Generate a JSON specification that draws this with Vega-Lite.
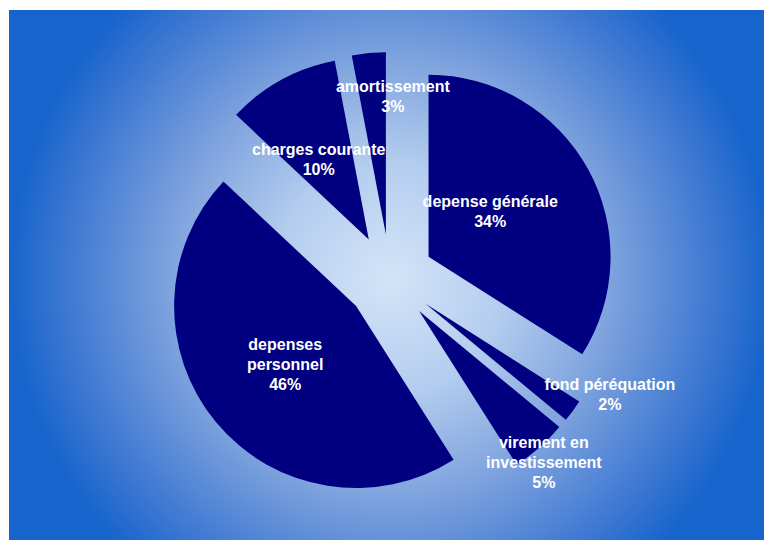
{
  "$schema": "https://vega.github.io/schema/vega-lite/v6.json",
  "width": 764,
  "height": 540,
  "autosize": {"type": "fit", "contains": "padding"},
  "padding": {"left": 9, "top": 10, "right": -7, "bottom": -6},
  "background": "white",
  "view": {
    "stroke": null,
    "fill": {
      "gradient": "radial",
      "x1": 0.5, "y1": 0.5, "r1": 0,
      "x2": 0.5, "y2": 0.5, "r2": 0.5,
      "stops": [
        {"offset": 0, "color": "#d3e4f7"},
        {"offset": 0.3, "color": "#b4cdef"},
        {"offset": 0.57, "color": "#80a4de"},
        {"offset": 0.85, "color": "#3e78d2"},
        {"offset": 1, "color": "#1664cc"}
      ]
    }
  },
  "data": {
    "values": [
      {"poste": "depense générale", "pct": 34},
      {"poste": "fond péréquation", "pct": 2},
      {"poste": "virement en\ninvestissement", "pct": 5},
      {"poste": "depenses\npersonnel", "pct": 46},
      {"poste": "charges courante", "pct": 10},
      {"poste": "amortissement", "pct": 3}
    ]
  },
  "transform": [
    {"window": [{"op": "row_number", "as": "rang"}]},
    {"calculate": "datum.poste + '\\n' + datum.pct + '%'", "as": "etiquette"}
  ],
  "encoding": {
    "theta": {"field": "pct", "type": "quantitative", "stack": true},
    "order": {"field": "rang", "type": "quantitative"}
  },
  "layer": [
    {
      "mark": {"type": "arc", "radius": 182, "fill": "#000080", "stroke": null},
      "encoding": {
        "x": {"value": {"expr": "width / 2 + 44 * sin(scale('theta', (datum.pct_start + datum.pct_end) / 2))"}},
        "y": {"value": {"expr": "height / 2 - 44 * cos(scale('theta', (datum.pct_start + datum.pct_end) / 2))"}}
      }
    },
    {
      "mark": {
        "type": "text",
        "radius": {"expr": "datum.pct >= 40 ? 136 : datum.pct >= 30 ? 120 : datum.pct >= 10 ? 138 : datum.pct >= 5 ? 241 : datum.pct >= 3 ? 181 : 249"},
        "thetaOffset": {"expr": "datum.pct >= 40 ? 0 : datum.pct >= 30 ? -0.08 : datum.pct >= 10 ? -0.04 : datum.pct >= 5 ? 0.03 : datum.pct >= 3 ? 0.11 : -0.14"},
        "dy": {"expr": "-(length(split(datum.etiquette, '\\n')) - 1) * 10"},
        "font": "Liberation Sans",
        "fontSize": 16,
        "fontWeight": "bold",
        "fill": "white",
        "lineBreak": "\n",
        "lineHeight": 20,
        "align": "center",
        "baseline": "middle"
      },
      "encoding": {
        "text": {"field": "etiquette", "type": "nominal"}
      }
    }
  ]
}
